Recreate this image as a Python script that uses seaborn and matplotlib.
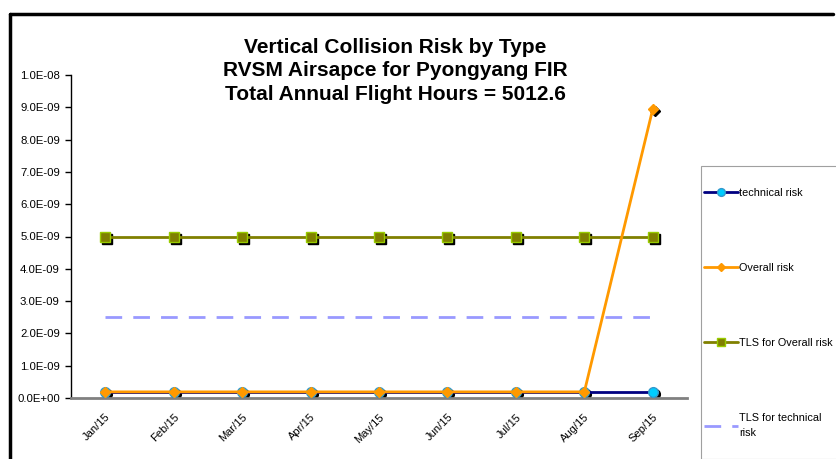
import numpy as np
import pandas as pd
import matplotlib
matplotlib.use("Agg")
import matplotlib.pyplot as plt
import matplotlib.transforms as mtransforms
from matplotlib.lines import Line2D
from matplotlib.patches import Rectangle
import seaborn as sns

# ----------------------------
# data
# ----------------------------
months = ["Jan/15", "Feb/15", "Mar/15", "Apr/15", "May/15",
          "Jun/15", "Jul/15", "Aug/15", "Sep/15"]
technical_risk = [1.9e-10, 1.9e-10, 1.9e-10, 1.9e-10, 1.9e-10,
                  1.9e-10, 1.9e-10, 1.9e-10, 1.9e-10]
overall_risk = [1.9e-10, 1.9e-10, 1.9e-10, 1.9e-10, 1.9e-10,
                1.9e-10, 1.9e-10, 1.9e-10, 8.95e-9]
tls_overall = [5.0e-9] * 9
tls_technical = [2.5e-9] * 9

yticks = [0, 1e-9, 2e-9, 3e-9, 4e-9, 5e-9, 6e-9, 7e-9, 8e-9, 9e-9, 1e-8]
ytick_labels = ["0.0E+00", "1.0E-09", "2.0E-09", "3.0E-09", "4.0E-09",
                "5.0E-09", "6.0E-09", "7.0E-09", "8.0E-09", "9.0E-09", "1.0E-08"]

df = pd.DataFrame({
    "idx": np.arange(len(months)),
    "technical risk": technical_risk,
    "Overall risk": overall_risk,
    "TLS for Overall risk": tls_overall,
    "TLS for technical\nrisk": tls_technical,
})

sns.set_style("white")
plt.rcParams['font.family'] = ['Liberation Sans', 'DejaVu Sans']
plt.rcParams['text.color'] = 'black'
plt.rcParams['xtick.color'] = 'black'
plt.rcParams['ytick.color'] = 'black'

fig = plt.figure(figsize=(8.37, 4.59), dpi=100)
ax = fig.add_axes([71 / 837, 1 - 398 / 459, 616 / 837, 323 / 459])

# marker shadows (black, shifted right/down)
shadow = mtransforms.offset_copy(ax.transData, fig=fig, x=2, y=-2, units="dots")
for col, mk, ms in [("technical risk", "o", 7), ("Overall risk", "D", 5),
                    ("TLS for Overall risk", "s", 6.5)]:
    ax.plot(df["idx"], df[col], linestyle="none", marker=mk, markersize=ms,
            color="black", transform=shadow, zorder=2)

sns.lineplot(data=df, x="idx", y="TLS for technical\nrisk", ax=ax, color="#9999FF",
             linewidth=2, linestyle=(0, (6, 4)), label="TLS for technical\nrisk", zorder=3)
sns.lineplot(data=df, x="idx", y="TLS for Overall risk", ax=ax, color="#808000",
             linewidth=2, marker="s", markersize=6.5, markerfacecolor="#808000",
             markeredgecolor="#99CC00", markeredgewidth=1,
             label="TLS for Overall risk", zorder=4)
sns.lineplot(data=df, x="idx", y="technical risk", ax=ax, color="#000080",
             linewidth=2, marker="o", markersize=7, markerfacecolor="#00CCFF",
             markeredgecolor="#3399CC", markeredgewidth=1,
             label="technical risk", zorder=5)
sns.lineplot(data=df, x="idx", y="Overall risk", ax=ax, color="#FF9900",
             linewidth=2, marker="D", markersize=5, markerfacecolor="#FF9900",
             markeredgecolor="#FF9900", markeredgewidth=1,
             label="Overall risk", zorder=6)

ax.set_xlim(-0.5, len(months) - 0.5)
ax.set_ylim(0, 1e-8)
ax.set_xlabel("")
ax.set_ylabel("")

ax.set_yticks(yticks)
ax.set_yticklabels(ytick_labels, fontsize=8.2)
ax.set_xticks(np.arange(len(months)))
ax.set_xticklabels(months, fontsize=8, rotation=45, ha="right", rotation_mode="anchor")
ax.set_xticks(np.arange(len(months) + 1) - 0.5, minor=True)
ax.tick_params(axis="x", which="major", length=0, pad=10)
ax.tick_params(axis="x", which="minor", length=4, width=1, color="black", direction="out")
ax.tick_params(axis="y", which="major", length=4, width=1, color="black", direction="out", pad=4, left=True)

for s in ["top", "right"]:
    ax.spines[s].set_visible(False)
ax.spines["left"].set_color("black")
ax.spines["left"].set_linewidth(1)
ax.spines["bottom"].set_color("#808080")
ax.spines["bottom"].set_linewidth(2)

# legend box drawn separately, entries placed inside it
fig.add_artist(Rectangle((701 / 837, 0), 1.0, 1 - 166 / 459, transform=fig.transFigure,
                         facecolor="white", edgecolor="#A0A0A0", linewidth=0.8, zorder=1))
handles, labels = ax.get_legend_handles_labels()
ax.get_legend().remove()
order = ["technical risk", "Overall risk", "TLS for Overall risk", "TLS for technical\nrisk"]
hmap = dict(zip(labels, handles))
leg = fig.legend([hmap[k] for k in order], order, loc="upper left",
                 bbox_to_anchor=(704 / 837, 1 - 188 / 459), bbox_transform=fig.transFigure,
                 fontsize=7.8, frameon=False, labelspacing=6.0, handlelength=3.1,
                 handletextpad=0.15, borderpad=0, borderaxespad=0, markerscale=0.8)
leg.set_zorder(5)
for t in leg.get_texts():
    t.set_linespacing(1.6)

fig.text(395 / 837, 1 - 38 / 459,
         "Vertical Collision Risk by Type\nRVSM Airsapce for Pyongyang FIR\nTotal Annual Flight Hours = 5012.6",
         ha="center", va="top", fontsize=15, fontweight="bold", linespacing=1.3)

# black frame (top and left edges visible in the screenshot)
fig.add_artist(Line2D([10 / 837, 833 / 837], [1 - 14 / 459, 1 - 14 / 459],
                      transform=fig.transFigure, color="black", linewidth=2.5))
fig.add_artist(Line2D([10 / 837, 10 / 837], [0, 1 - 14 / 459],
                      transform=fig.transFigure, color="black", linewidth=2.5))

fig.savefig("out.png", dpi=100)
